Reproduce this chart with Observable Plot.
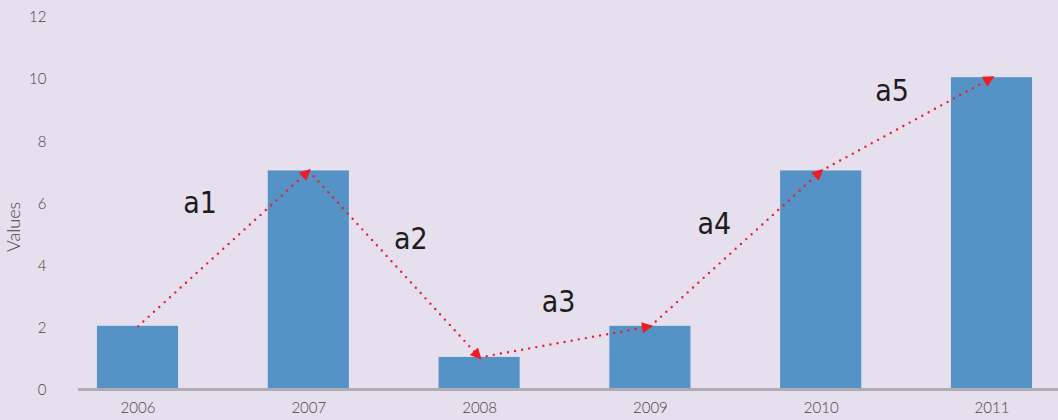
<!DOCTYPE html>
<html>
<head>
<meta charset="utf-8">
<script src="https://cdn.jsdelivr.net/npm/d3@7"></script>
<script src="https://cdn.jsdelivr.net/npm/@observablehq/plot@0.6"></script>
<style>
  html, body { margin: 0; padding: 0; background: #e6dfee; }
  #chart svg { display: block; }
</style>
</head>
<body>
<div id="chart"></div>
<script>
// ---- data ----
const years = ["2006", "2007", "2008", "2009", "2010", "2011"];
const values = [2, 7, 1, 2, 7, 10];
const yTicks = [0, 2, 4, 6, 8, 10, 12];
const yTitle = "Values";
const yTitleAt = 5.2;
const arrowLabels = ["a1", "a2", "a3", "a4", "a5"];
// label placement: y value and horizontal offset from the start bar
const labelY = [5.95, 4.8, 2.78, 5.28, 9.57];
const labelDx = [62, 102, 79, 64, 71];

const bars = years.map((y, i) => ({year: y, value: values[i]}));
const links = years.slice(0, -1).map((y, i) => ({
  from: y, to: years[i + 1], v1: values[i], v2: values[i + 1],
  label: arrowLabels[i], ly: labelY[i], dx: labelDx[i]
}));

const red = "#ee1d25";
const font = "Lato, 'Open Sans', sans-serif";

const plot = Plot.plot({
  width: 1058,
  height: 420,
  marginLeft: 78,
  marginRight: 0,
  marginTop: 15,
  marginBottom: 32,
  style: {background: "#e6dfee", fontFamily: font},
  x: {domain: years, range: [78, 1051], paddingInner: 0.525, paddingOuter: 0.111, round: false, axis: null},
  y: {domain: [0, 12], axis: null},
  marks: [
    Plot.barY(bars, {x: "year", y: "value", fill: "#5593c6"}),
    Plot.ruleY([0], {stroke: "#aeacb4", strokeWidth: 3, dy: 1}),
    Plot.axisY(yTicks, {tickSize: 0, tickPadding: 32, fontSize: 15, fontWeight: 300, fill: "#444", dy: 2, label: null, fontFamily: font}),
    Plot.axisX(years, {tickSize: 0, tickPadding: 14, fontSize: 15, fontWeight: 300, fill: "#444", label: null, fontFamily: font}),
    Plot.text([{t: yTitle, y: yTitleAt}], {text: "t", y: "y", frameAnchor: "left", textAnchor: "middle", dx: -64, rotate: -90, fontSize: 18, fontWeight: 300, fill: "#444", fontFamily: font}),
    Plot.link(links, {
      x1: "from", y1: "v1", x2: "to", y2: "v2",
      stroke: red, strokeWidth: 2.4, strokeDasharray: "0 7.2", strokeLinecap: "round",
      markerEnd: "arrow"
    }),
    ...links.map(l => Plot.text([l], {
      x: "from", y: "ly", text: "label", dx: l.dx,
      fontSize: 30, fill: "#1c1c1c", fontFamily: "'DejaVu Sans Condensed', 'DejaVu Sans', sans-serif"
    }))
  ]
});

// turn the stroked arrow markers into filled triangles
d3.select(plot).selectAll("marker").each(function() {
  const m = d3.select(this);
  m.attr("fill", red).attr("stroke", "none").attr("stroke-dasharray", "none")
   .attr("markerWidth", 7.8).attr("markerHeight", 7.8);
  m.selectAll("path").attr("d", "M-4.5,-3L1.5,0L-4.5,3Z").attr("fill", red).attr("stroke", "none");
});

document.getElementById("chart").appendChild(plot);
</script>
</body>
</html>
